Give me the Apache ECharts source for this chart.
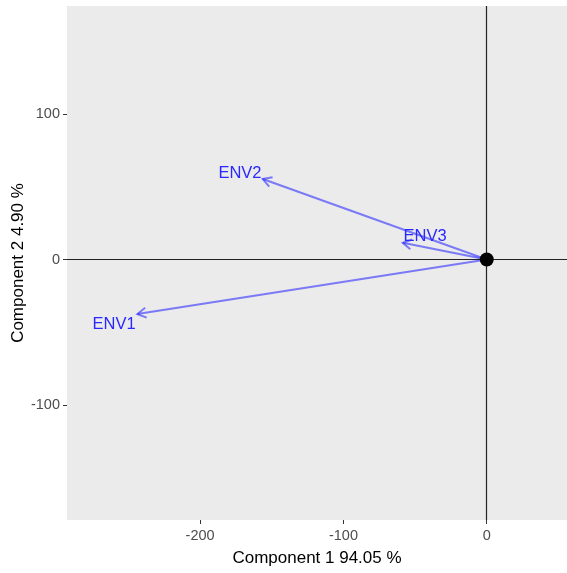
<!DOCTYPE html>
<html><head><meta charset="utf-8">
<script src="https://cdn.jsdelivr.net/npm/echarts@6/dist/echarts.min.js"></script>
<style>html,body{margin:0;padding:0;background:#fff}#c{width:567px;height:573px}</style>
</head><body><div id="c"></div>
<script>
// Data
const names = ['ENV1', 'ENV2', 'ENV3'];
const comp1 = [-243.8, -156.3, -58.6];
const comp2 = [-37.5, 55.3, 11.5];
const labelX = [-260, -172.2, -43];
const labelY = [-44.3, 58.8, 15.5];
const xTicks = [-200, -100, 0];
const yTicks = [-100, 0, 100];
const xTitle = 'Component 1 94.05 %';
const yTitle = 'Component 2 4.90 %';

const chart = echarts.init(document.getElementById('c'), null, {renderer: 'canvas'});
const font = '"Liberation Sans", Arial, sans-serif';
const arrowData = names.map((n, i) => [0, 0, comp1[i], comp2[i]]);
const labelData = names.map((n, i) => ({value: [labelX[i], labelY[i]], name: n}));

chart.setOption({
  animation: false,
  backgroundColor: '#ffffff',
  grid: {left: 67, right: 0, top: 6, bottom: 53, show: true, backgroundColor: '#EBEBEB', borderWidth: 0,
         containLabel: false, outerBoundsMode: 'none'},
  xAxis: {
    type: 'value', min: -292.9, max: 56, scale: true,
    name: xTitle, nameLocation: 'middle', nameGap: 30, nameMoveOverlap: false,
    nameTextStyle: {color: '#000', fontSize: 17, fontFamily: font},
    axisLine: {show: false, onZero: false},
    splitLine: {show: false},
    axisTick: {show: true, length: 4, customValues: xTicks, lineStyle: {color: '#333'}},
    axisLabel: {customValues: xTicks, color: '#4D4D4D', fontSize: 14.5, fontFamily: font, margin: 8}
  },
  yAxis: {
    type: 'value', min: -179, max: 174.2, scale: true,
    name: yTitle, nameLocation: 'middle', nameGap: 40, nameMoveOverlap: false,
    nameTextStyle: {color: '#000', fontSize: 17, fontFamily: font},
    axisLine: {show: false, onZero: false},
    splitLine: {show: false},
    axisTick: {show: true, length: 4, customValues: yTicks, lineStyle: {color: '#333'}},
    axisLabel: {customValues: yTicks, color: '#4D4D4D', fontSize: 14.5, fontFamily: font, margin: 7}
  },
  series: [
    {
      type: 'line', data: [], silent: true,
      markLine: {
        symbol: 'none', silent: true, label: {show: false},
        lineStyle: {color: '#222', width: 1.2, type: 'solid', opacity: 1},
        data: [{xAxis: 0}, {yAxis: 0}]
      }
    },
    {
      type: 'custom', data: arrowData, silent: true, z: 3,
      renderItem: function (params, api) {
        const p0 = api.coord([api.value(0), api.value(1)]);
        const p1 = api.coord([api.value(2), api.value(3)]);
        const ang = Math.atan2(p0[1] - p1[1], p0[0] - p1[0]);
        const L = 10, a = Math.PI / 6;
        const h1 = [p1[0] + L * Math.cos(ang + a), p1[1] + L * Math.sin(ang + a)];
        const h2 = [p1[0] + L * Math.cos(ang - a), p1[1] + L * Math.sin(ang - a)];
        const style = {stroke: 'rgba(30,30,255,0.55)', lineWidth: 2, fill: null};
        return {type: 'group', children: [
          {type: 'line', shape: {x1: p0[0], y1: p0[1], x2: p1[0], y2: p1[1]}, style: style},
          {type: 'polyline', shape: {points: [h1, p1, h2]}, style: style}
        ]};
      }
    },
    {
      type: 'scatter', data: labelData, symbolSize: 0, silent: true, z: 4,
      itemStyle: {opacity: 1},
      label: {show: true, position: 'inside', formatter: '{b}', color: '#2828FF', fontSize: 16.5, fontFamily: font}
    },
    {
      type: 'scatter', data: [[0, 0]], symbol: 'circle', symbolSize: 14, silent: true, z: 5,
      itemStyle: {color: '#000', opacity: 1}
    }
  ]
});
</script></body></html>
